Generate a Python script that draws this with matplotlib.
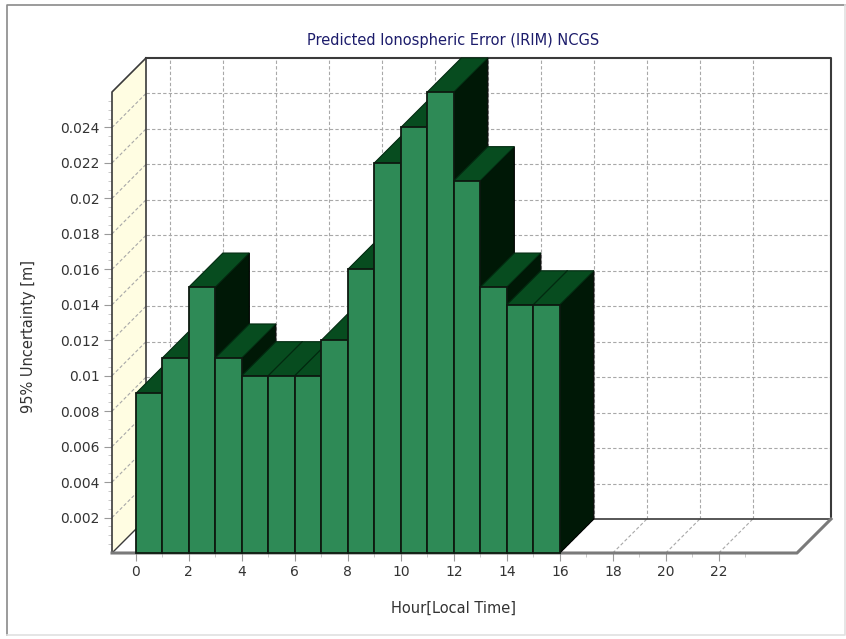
import numpy as np
import matplotlib.pyplot as plt
from matplotlib.patches import Polygon
from matplotlib.lines import Line2D

# hourly 95% uncertainty values, one bar per hour
hours = np.arange(16)
uncertainty = [0.009, 0.011, 0.015, 0.011, 0.010, 0.010, 0.010, 0.012,
               0.016, 0.022, 0.024, 0.026, 0.021, 0.015, 0.014, 0.014]

y_ticks = [0.002, 0.004, 0.006, 0.008, 0.010, 0.012,
           0.014, 0.016, 0.018, 0.020, 0.022, 0.024]
y_tick_labels = ['0.002', '0.004', '0.006', '0.008', '0.01', '0.012',
                 '0.014', '0.016', '0.018', '0.02', '0.022', '0.024']
x_ticks = [0, 2, 4, 6, 8, 10, 12, 14, 16, 18, 20, 22]
x_minor = [1, 3, 5, 7, 9, 11, 13, 15, 17, 19, 21, 23]

title = 'Predicted Ionospheric Error (IRIM) NCGS'
x_label = 'Hour[Local Time]'
y_label = '95% Uncertainty [m]'

FRONT = '#2e8a56'
TOP = '#074c1f'
SIDE = '#001806'
WALL = '#fffde2'
GRID = '#a8a8a8'
EDGE = '#3a3a3a'

x_min, x_max = -0.9, 24.95
y_min, y_max = 0.0, 0.026
depth_px = 34


def line(ax, xs, ys, **kw):
    ax.add_line(Line2D(xs, ys, clip_on=False, **kw))


def poly(ax, pts, **kw):
    ax.add_patch(Polygon(pts, closed=True, clip_on=False, **kw))


fig = plt.figure(figsize=(8.46, 6.39), dpi=100)
ax = fig.add_axes([112 / 846, 86 / 639, 685 / 846, 461 / 639])
ax.set_xlim(x_min, x_max)
ax.set_ylim(y_min, y_max)
for s in ax.spines.values():
    s.set_visible(False)
ax.patch.set_visible(False)

# depth of the 3d box in data units
dx = depth_px * (x_max - x_min) / ax.bbox.width
dy = depth_px * (y_max - y_min) / ax.bbox.height

# back wall + grid
poly(ax, [(x_min + dx, dy), (x_max + dx, dy), (x_max + dx, y_max + dy),
          (x_min + dx, y_max + dy)], facecolor='white', edgecolor='none', zorder=1)
for y in y_ticks:
    line(ax, [x_min + dx, x_max + dx], [y + dy, y + dy], color=GRID, lw=0.8,
         linestyle=(0, (3, 2)), zorder=2)
for x in x_ticks:
    line(ax, [x + dx, x + dx], [dy, y_max + dy], color=GRID, lw=0.8,
         linestyle=(0, (3, 2)), zorder=2)

# left wall
poly(ax, [(x_min, 0), (x_min + dx, dy), (x_min + dx, y_max + dy), (x_min, y_max)],
     facecolor=WALL, edgecolor='none', zorder=3)
for y in y_ticks:
    line(ax, [x_min, x_min + dx], [y, y + dy], color=GRID, lw=0.8,
         linestyle=(0, (3, 2)), zorder=4)

# floor
poly(ax, [(x_min, 0), (x_max, 0), (x_max + dx, dy), (x_min + dx, dy)],
     facecolor='white', edgecolor='none', zorder=3)
for x in x_ticks:
    line(ax, [x, x + dx], [0, dy], color=GRID, lw=0.8,
         linestyle=(0, (3, 2)), zorder=4)

# box outlines
line(ax, [x_min + dx, x_max + dx, x_max + dx], [y_max + dy, y_max + dy, dy],
     color=EDGE, lw=1.5, zorder=5)
line(ax, [x_min + dx, x_min + dx], [dy, y_max + dy], color=EDGE, lw=1.2, zorder=5)
line(ax, [x_min + dx, x_max + dx], [dy, dy], color=EDGE, lw=1.2, zorder=5)
line(ax, [x_min, x_min, x_min + dx], [0, y_max, y_max + dy], color=EDGE, lw=1.2, zorder=5)
line(ax, [x_min, x_min + dx], [0, dy], color=EDGE, lw=1.0, zorder=5)
line(ax, [x_min, x_max, x_max + dx], [0, 0, dy], color='#7a7a7a', lw=2.2, zorder=5)

# bars, drawn left to right so nearer bars cover the sides of earlier ones
z = 10
for h, v in zip(hours, uncertainty):
    x0, x1 = h, h + 1
    poly(ax, [(x1, 0), (x1 + dx, dy), (x1 + dx, v + dy), (x1, v)],
         facecolor=SIDE, edgecolor='black', lw=0.8, zorder=z)
    poly(ax, [(x0, v), (x1, v), (x1 + dx, v + dy), (x0 + dx, v + dy)],
         facecolor=TOP, edgecolor='#022a10', lw=0.8, zorder=z)
    poly(ax, [(x0, 0), (x1, 0), (x1, v), (x0, v)],
         facecolor=FRONT, edgecolor='#0d1a10', lw=1.3, zorder=z + 1)
    z += 2

# axes ticks and labels
ax.set_xticks(x_ticks)
ax.set_xticks(x_minor, minor=True)
ax.set_yticks(y_ticks)
ax.set_yticklabels(y_tick_labels)
ax.set_yticks(np.arange(0.0005, 0.026, 0.0005), minor=True)
ax.tick_params(which='major', direction='out', length=6, width=0.8,
               color='#9a9a9a', labelcolor='#333333', labelsize=10, pad=3)
ax.tick_params(which='minor', direction='out', length=3, width=0.6, color='#c0c0c0')

ax.set_xlabel(x_label, fontsize=10.5, color='#333333')
ax.set_ylabel(y_label, fontsize=10.5, color='#333333')
ax.xaxis.set_label_coords(0.498, -0.103)
ax.yaxis.set_label_coords(-0.111, 0.47)

fig.text(453 / 846, 1 - 40 / 639, title, ha='center', va='center',
         color='#1c1c6b', fontsize=10.5)

# outer frame
fig.add_artist(Line2D([7 / 846, 7 / 846, 845 / 846], [1 - 635 / 639, 1 - 5 / 639, 1 - 5 / 639],
                      transform=fig.transFigure, color='#8a8a8a', lw=1.2))
fig.add_artist(Line2D([7 / 846, 845 / 846, 845 / 846], [1 - 635 / 639, 1 - 635 / 639, 1 - 5 / 639],
                      transform=fig.transFigure, color='#e0e0e0', lw=1.2))

fig.savefig('out.png', dpi=100)
